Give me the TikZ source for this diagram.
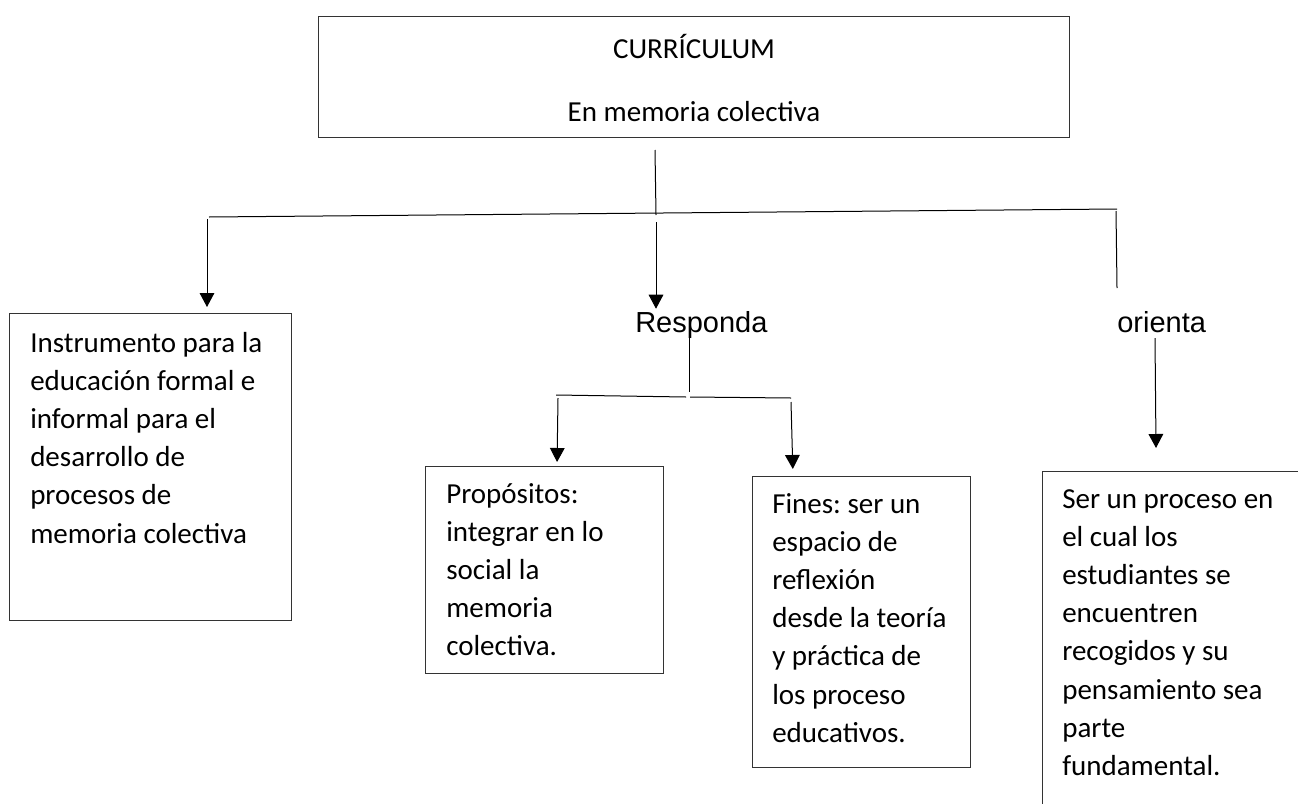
\documentclass[tikz,border=0pt]{standalone}
\usepackage{fontspec}
\setmainfont{Carlito}
\newfontfamily\arialfont{Liberation Sans}
\usetikzlibrary{arrows.meta,positioning}
\frenchspacing

\tikzset{
  box/.style={draw=black!80,line width=1pt,inner sep=0pt,anchor=north west},
  txt/.style={inner sep=0pt,anchor=base west,font=\fontsize{21.75pt}{28.65pt}\selectfont},
  lbl/.style={inner sep=0pt,anchor=base west,font=\arialfont\fontsize{21.75pt}{26pt}\selectfont},
  conn/.style={line width=0.75pt},
  arr/.style={conn,-{Triangle[length=10.5pt,width=11pt]}}
}

\begin{document}
\begin{tikzpicture}[x=0.75pt,y=-0.75pt]
      \useasboundingbox (0,0) rectangle (1298,803);
      \clip (0,0) rectangle (1298,803);
      % boxes
      \node[box,minimum width=563.25pt,minimum height=90.75pt](cur) at (318,16){};
      \node[box,minimum width=211.5pt,minimum height=230.25pt](inst) at (9,313){};
      \node[box,minimum width=178.5pt,minimum height=155.25pt](prop) at (425,466){};
      \node[box,minimum width=163.5pt,minimum height=218.25pt](fines) at (752,476){};
      \node[box,minimum width=225pt,minimum height=300pt](ser) at (1042,471){};
      % texts
      \node[txt,anchor=base](cur1) at (694,58){CURRÍCULUM};
      \node[txt,anchor=base](cur2) at (694,121){En memoria colectiva};
      \node[lbl](resp) at (635,332){Responda};
      \node[lbl](ori) at (1117,332){orienta};
      \node[txt](inst-t) at (30,352){\parbox[t]{250pt}{\raggedright Instrumento para la\\ educación formal e\\ informal para el\\ desarrollo de\\ procesos de\\ memoria colectiva}};
      \node[txt](prop-t) at (446,503){\parbox[t]{200pt}{\raggedright Propósitos:\\ integrar en lo\\ social la\\ memoria\\ colectiva.}};
      \node[txt](fines-t) at (772,513){\parbox[t]{200pt}{\raggedright Fines: ser un\\ espacio de\\ reflexión\\ desde la teoría\\ y práctica de\\ los proceso\\ educativos.}};
      \node[txt](ser-t) at (1062,508){\parbox[t]{200pt}{\raggedright Ser un proceso en\\ el cual los\\ estudiantes se\\ encuentren\\ recogidos y su\\ pensamiento sea\\ parte\\ fundamental.}};
      % connectors
      \coordinate (t0) at (655,150);
      \coordinate (t1) at (656,215);
      \coordinate (hl) at (209,217);
      \coordinate (hr) at (1117,209);
      \coordinate (a1) at (207,219);
      \coordinate (a2) at (656,222);
      \coordinate (a3) at (1116,211);
      \coordinate (a3e) at (1117,288);
      \coordinate (r0) at (689,334);
      \coordinate (r1) at (689,392);
      \coordinate (sl) at (556,395);
      \coordinate (sm1) at (686,397);
      \coordinate (sm2) at (690,397);
      \coordinate (sr) at (791,398);
      \coordinate (b1) at (558,398);
      \coordinate (b2) at (791,402);
      \coordinate (o0) at (1155,338);
      \coordinate (o1) at (1156,448);
      \draw[conn] (t0) -- (t1);
      \draw[conn] (hl) -- (hr);
      \draw[arr,shorten >=4.5pt] (a1) -- (a1 |- inst.north);
      \draw[arr,shorten >=1.5pt] (a2) -- (a2 |- resp.north);
      \draw[conn] (a3) -- (a3e);
      \draw[conn] (r0) -- (r1);
      \draw[conn] (sl) -- (sm1) (sm2) -- (sr);
      \draw[arr,shorten >=3pt] (b1) -- (557,466);
      \draw[arr,shorten >=5.25pt] (b2) -- (793,476);
      \draw[arr] (o0) -- (o1);
    \end{tikzpicture}
\end{document}
